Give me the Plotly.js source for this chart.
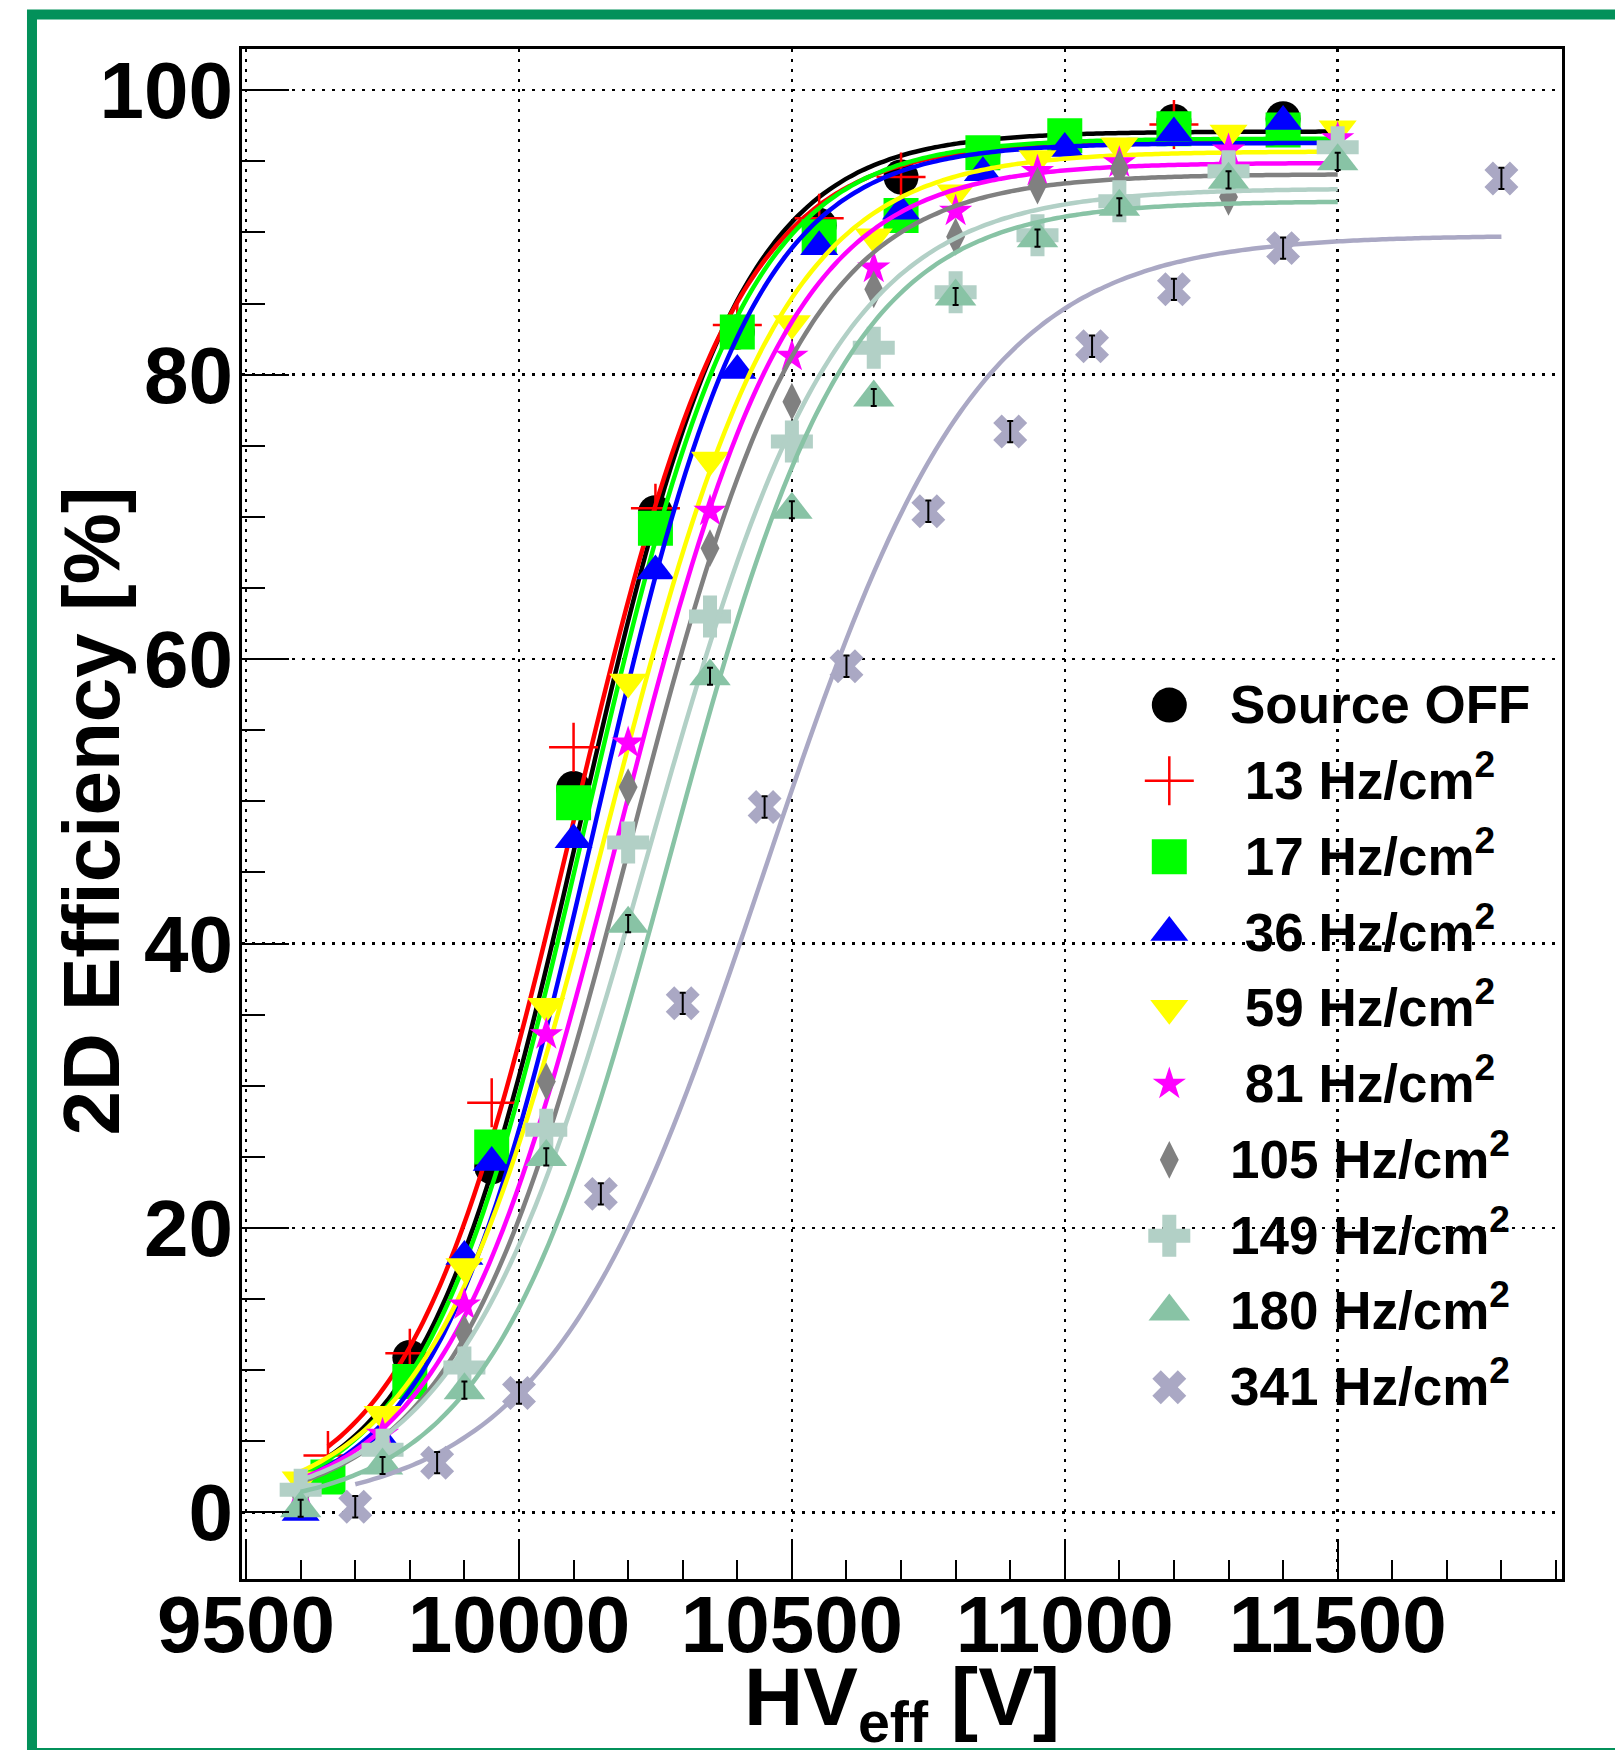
<!DOCTYPE html>
<html>
<head>
<meta charset="utf-8">
<script src="https://cdn.plot.ly/plotly-3.0.1.min.js"></script>
<style>html,body{margin:0;padding:0;background:#fff;}</style>
</head>
<body>
<div id="chart" style="width:1615px;height:1750px;"></div>
<script>
// ---------------- data ----------------
const seriesLabels = ['Source OFF', ' 13 Hz/cm<sup>2</sup>', ' 17 Hz/cm<sup>2</sup>', ' 36 Hz/cm<sup>2</sup>',
  ' 59 Hz/cm<sup>2</sup>', ' 81 Hz/cm<sup>2</sup>', '105 Hz/cm<sup>2</sup>', '149 Hz/cm<sup>2</sup>',
  '180 Hz/cm<sup>2</sup>', '341 Hz/cm<sup>2</sup>'];

const hvOff  = [9800, 9950, 10100, 10250, 10400, 10550, 10700, 10850, 11200, 11400];
const effOff = [10.9, 24.3, 50.9, 70.3, 83.0, 90.5, 93.9, 95.5, 97.8, 98.0];

const hv13  = [9650, 9800, 9950, 10100, 10250, 10400, 10550, 10700, 11200];
const eff13 = [4.0, 11.2, 28.8, 53.8, 70.6, 83.5, 91.0, 93.9, 97.6];

const hv17  = [9650, 9800, 9950, 10100, 10250, 10400, 10550, 10700, 10850, 11000, 11200, 11400];
const eff17 = [2.5, 9.2, 25.7, 49.9, 69.2, 83.0, 89.7, 91.2, 95.6, 96.8, 97.3, 97.2];

const hv36  = [9600, 9750, 9900, 9950, 10100, 10250, 10400, 10550, 10700, 10850, 11000, 11200, 11400];
const eff36 = [0.0, 5.0, 18.0, 24.6, 47.3, 66.2, 80.3, 89.0, 91.5, 94.2, 95.9, 97.0, 97.8];

const hv59  = [9600, 9750, 9900, 10050, 10200, 10350, 10500, 10650, 10800, 10950, 11100, 11300, 11500];
const eff59 = [2.3, 6.9, 17.3, 35.6, 58.4, 74.0, 83.6, 89.7, 92.8, 95.2, 96.1, 97.0, 97.3];

const hv81  = [9600, 9750, 9900, 10050, 10200, 10350, 10500, 10650, 10800, 10950, 11100, 11300, 11500];
const eff81 = [1.5, 5.5, 14.6, 33.6, 54.1, 70.4, 81.3, 87.5, 91.5, 94.3, 94.9, 95.8, 96.6];

const hv105  = [9600, 9750, 9900, 10050, 10200, 10350, 10500, 10650, 10800, 10950, 11100, 11300];
const eff105 = [1.2, 4.5, 12.6, 30.3, 51.0, 67.8, 78.1, 86.0, 89.7, 93.3, 94.5, 92.5];

const hv149  = [9600, 9750, 9900, 10050, 10200, 10350, 10500, 10650, 10800, 10950, 11100, 11300, 11500];
const eff149 = [1.6, 4.4, 10.2, 26.9, 47.1, 63.0, 75.3, 81.9, 85.8, 89.8, 92.2, 94.3, 96.0];

const hv180  = [9600, 9750, 9900, 10050, 10200, 10350, 10500, 10650, 10800, 10950, 11100, 11300, 11500];
const eff180 = [0.3, 3.3, 8.6, 25.0, 41.4, 58.8, 70.5, 78.4, 85.5, 89.6, 91.8, 93.7, 95.0];

const hv341  = [9700, 9850, 10000, 10150, 10300, 10450, 10600, 10750, 10900, 11050, 11200, 11400, 11800];
const eff341 = [0.4, 3.5, 8.4, 22.4, 35.8, 49.6, 59.5, 70.4, 76.0, 82.0, 86.0, 88.9, 93.8];

// sigmoid fit parameters
const fitPlateau = [97.1, 96.4, 96.6, 96.3, 95.7, 94.9, 94.1, 93.1, 92.2, 89.8];
const fitHV50    = [10112.7, 10097.5, 10121, 10138, 10159.5, 10181, 10203.8, 10237.9, 10276.3, 10447.8];
const fitWidth   = [145.8, 149.8, 146.3, 145.6, 161.1, 158.5, 160.5, 173.2, 163.6, 197.3];
const fitStart   = [9650, 9650, 9600, 9600, 9600, 9600, 9600, 9600, 9600, 9700];
const fitEnd     = [11500, 11500, 11500, 11500, 11500, 11500, 11500, 11500, 11500, 11800];

const xTickVals = [9500, 10000, 10500, 11000, 11500];
const yTickVals = [0, 20, 40, 60, 80, 100];

// ---------------- styles ----------------
const hvSets  = [hvOff, hv13, hv17, hv36, hv59, hv81, hv105, hv149, hv180, hv341];
const effSets = [effOff, eff13, eff17, eff36, eff59, eff81, eff105, eff149, eff180, eff341];
const styles = [
  {color:'#000000', symbol:'circle', size:35, lw:0},
  {color:'#ff0000', symbol:'cross-thin-open', size:35, lw:2.5},
  {color:'#00ff00', symbol:'square', size:35, lw:0},
  {color:'#0000ff', symbol:'triangle-up', size:33, lw:0},
  {color:'#ffff00', symbol:'triangle-down', size:33, lw:0},
  {color:'#ff00ff', symbol:'star', size:25, lw:0},
  {color:'#808080', symbol:'diamond-tall', size:27, lw:0},
  {color:'#b2d0c6', symbol:'cross', size:35, lw:0},
  {color:'#88c3a5', symbol:'triangle-up', size:36, lw:0},
  {color:'#aaa8c4', symbol:'x', size:30, lw:0}
];
const errSize = {8: 0.6, 9: 0.75};

const FONT = 'Liberation Sans, Arial, Helvetica, sans-serif';
const traces = [];

hvSets.forEach((hv, i) => {
  const st = styles[i];
  traces.push({
    type:'scatter', mode:'markers', x: hv, y: effSets[i], showlegend:false, hoverinfo:'skip',
    marker:{symbol: st.symbol, size: st.size, color: st.color, line:{width: st.lw, color: st.color}}
  });
  // fit curve
  const n = 160, xs = [], ys = [];
  for (let k = 0; k < n; k++) {
    const v = fitStart[i] + (fitEnd[i] - fitStart[i]) * k / (n - 1);
    xs.push(v);
    ys.push(fitPlateau[i] / (1 + Math.exp(-(v - fitHV50[i]) / fitWidth[i])));
  }
  traces.push({
    type:'scatter', mode:'lines', x: xs, y: ys, showlegend:false, hoverinfo:'skip',
    line:{color: st.color, width: 4.5, shape:'spline'}
  });
});

// visible error bars on the markers with open centres
Object.keys(errSize).forEach(k => {
  const i = +k;
  traces.push({
    type:'scatter', mode:'markers', x: hvSets[i], y: effSets[i], showlegend:false, hoverinfo:'skip',
    marker:{size:1, color:'rgba(0,0,0,0)'},
    error_y:{type:'constant', value: errSize[k], color:'#000', thickness:2, width:3}
  });
});

// legend markers (drawn on an overlay axis spanning the plot area)
const legX = 0.7025, legTop = 0.5712, legStep = 0.04954;
const annotations = [];
hvSets.forEach((hv, i) => {
  const st = styles[i];
  traces.push({
    type:'scatter', mode:'markers', xaxis:'x2', yaxis:'y2',
    x:[legX], y:[legTop - i * legStep], showlegend:false, hoverinfo:'skip',
    marker:{symbol: st.symbol, size: st.size, color: st.color, line:{width: st.lw, color: st.color}}
  });
  annotations.push({
    xref:'paper', yref:'paper', x:0.747, y: legTop - i * legStep - 0.0203,
    xanchor:'left', yanchor:'bottom', showarrow:false, text: seriesLabels[i],
    font:{family:FONT, size:53, color:'#000', weight:'bold'}
  });
});

annotations.push({
  xref:'paper', yref:'paper', x:-0.1136, y:0.5016, xanchor:'center', yanchor:'middle',
  textangle:-90, showarrow:false, text:'2D Efficiency [%]',
  font:{family:FONT, size:80, color:'#000', weight:'bold'}
});
annotations.push({
  xref:'paper', yref:'paper', x:0.5, y:-0.0456, xanchor:'center', yanchor:'top',
  showarrow:false, text:'HV<sub>eff</sub> [V]',
  font:{family:FONT, size:82, color:'#000', weight:'bold'}
});

const axisCommon = {
  showline:true, linewidth:3, linecolor:'#000', mirror:true,
  ticks:'inside', tickwidth:2, tickcolor:'#000',
  showgrid:true, gridcolor:'#000', gridwidth:2.5, griddash:'3px,7px',
  zeroline:false,
  tickfont:{family:FONT, size:80, color:'#000', weight:'bold'}
};

const layout = {
  width:1615, height:1750,
  margin:{l:242, r:53, t:49, b:171},
  paper_bgcolor:'#ffffff', plot_bgcolor:'#ffffff',
  showlegend:false,
  xaxis: Object.assign({}, axisCommon, {
    range:[9492.5, 11911], tickmode:'array', tickvals:xTickVals, ticktext:xTickVals.map(String),
    ticklen:39, ticklabelstandoff:-26,
    minor:{tickmode:'linear', tick0:9500, dtick:100, ticks:'inside', ticklen:19, tickwidth:2, tickcolor:'#000', showgrid:false}
  }),
  yaxis: Object.assign({}, axisCommon, {
    range:[-4.68, 102.9], tickmode:'array', tickvals:yTickVals, ticktext:yTickVals.map(String),
    ticklen:47, ticklabelstandoff:-10,
    minor:{tickmode:'linear', tick0:0, dtick:5, ticks:'inside', ticklen:23, tickwidth:2, tickcolor:'#000', showgrid:false}
  }),
  xaxis2:{domain:[0,1], range:[0,1], overlaying:'x', anchor:'y2', visible:false, fixedrange:true},
  yaxis2:{domain:[0,1], range:[0,1], overlaying:'y', anchor:'x2', visible:false, fixedrange:true},
  annotations: annotations,
  shapes:[{
    type:'rect', xref:'paper', yref:'paper', x0:-0.1591, x1:1.06, y0:-0.1137, y1:1.0225,
    line:{color:'#03915a', width:10}, layer:'above'
  }]
};

Plotly.newPlot('chart', traces, layout, {staticPlot:true, displayModeBar:false});
</script>
</body>
</html>
